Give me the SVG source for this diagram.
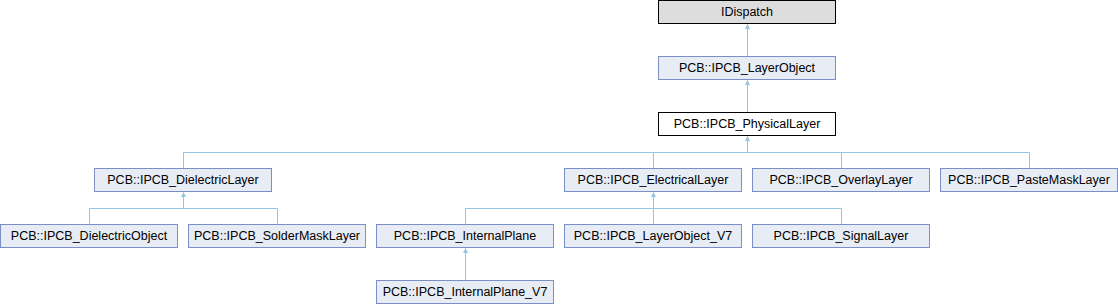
<svg xmlns="http://www.w3.org/2000/svg" width="1118" height="304" viewBox="0 0 1118 304">
<style>
.n rect{fill:#E8ECF5;stroke:#7B8FC7;stroke-width:1}
.n text{font-family:"Liberation Sans",Arial,sans-serif;font-size:12.5px;fill:#000;text-anchor:middle}
#idispatch rect{fill:#DDDDDD;stroke:#000}
#physical rect{fill:#FFFFFF;stroke:#000}
.e path{fill:none;stroke:#94C6E4;stroke-width:1}
.e polygon{fill:#94C6E4;stroke:none}
</style>
<rect width="1118" height="304" fill="#FFFFFF"/>
<g class="e" id="connectors">
<path d="M747.5,29V56.5"/><polygon points="747.5,24 745,29 750,29"/>
<path d="M747.5,85V112.5"/><polygon points="747.5,80 745,85 750,85"/>
<path d="M747.5,141V152.5M183.5,168.5V152.5H1029.5V168.5M653.5,152.5V168.5M841.5,152.5V168.5"/><polygon points="747.5,136 745,141 750,141"/>
<path d="M183.5,197V208.5M89.5,224.5V208.5H277.5V224.5"/><polygon points="183.5,192 181,197 186,197"/>
<path d="M653.5,197V224.5M465.5,224.5V208.5H841.5V224.5"/><polygon points="653.5,192 651,197 656,197"/>
<path d="M465.5,253V280.5"/><polygon points="465.5,248 463,253 468,253"/>
</g>
<g class="n" id="idispatch"><rect x="658.5" y="0.5" width="177" height="23"/><text x="747" y="16">IDispatch</text></g>
<g class="n" id="layerobject"><rect x="658.5" y="56.5" width="177" height="23"/><text x="747" y="72">PCB::IPCB_LayerObject</text></g>
<g class="n" id="physical"><rect x="658.5" y="112.5" width="177" height="23"/><text x="747" y="128">PCB::IPCB_PhysicalLayer</text></g>
<g class="n" id="dielectric"><rect x="94.5" y="168.5" width="177" height="23"/><text x="183" y="184">PCB::IPCB_DielectricLayer</text></g>
<g class="n" id="electrical"><rect x="564.5" y="168.5" width="177" height="23"/><text x="653" y="184">PCB::IPCB_ElectricalLayer</text></g>
<g class="n" id="overlay"><rect x="752.5" y="168.5" width="177" height="23"/><text x="841" y="184">PCB::IPCB_OverlayLayer</text></g>
<g class="n" id="pastemask"><rect x="940.5" y="168.5" width="177" height="23"/><text x="1029" y="184">PCB::IPCB_PasteMaskLayer</text></g>
<g class="n" id="dielectricobject"><rect x="0.5" y="224.5" width="177" height="23"/><text x="89" y="240">PCB::IPCB_DielectricObject</text></g>
<g class="n" id="soldermask"><rect x="188.5" y="224.5" width="177" height="23"/><text x="277" y="240">PCB::IPCB_SolderMaskLayer</text></g>
<g class="n" id="internalplane"><rect x="376.5" y="224.5" width="177" height="23"/><text x="465" y="240">PCB::IPCB_InternalPlane</text></g>
<g class="n" id="layerobjectv7"><rect x="564.5" y="224.5" width="177" height="23"/><text x="653" y="240">PCB::IPCB_LayerObject_V7</text></g>
<g class="n" id="signal"><rect x="752.5" y="224.5" width="177" height="23"/><text x="841" y="240">PCB::IPCB_SignalLayer</text></g>
<g class="n" id="internalplanev7"><rect x="376.5" y="280.5" width="177" height="23"/><text x="465" y="296">PCB::IPCB_InternalPlane_V7</text></g>
</svg>
